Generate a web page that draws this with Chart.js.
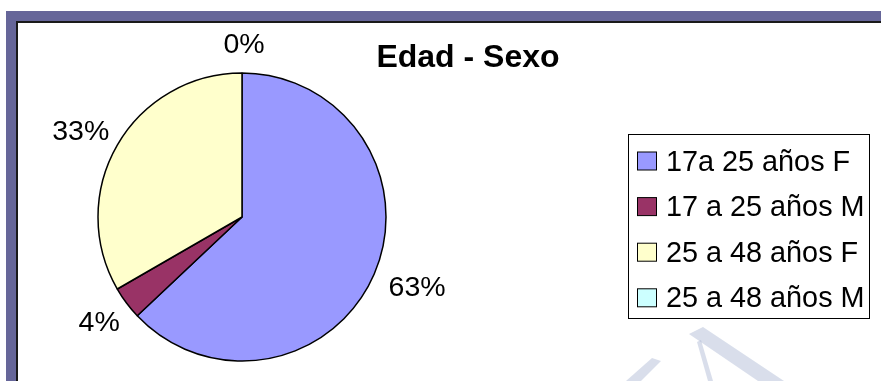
<!DOCTYPE html>
<html>
<head>
<meta charset="utf-8">
<script src="https://cdn.jsdelivr.net/npm/chart.js@4.4.1/dist/chart.umd.min.js"></script>
<style>
  html, body { margin: 0; padding: 0; background: #fff; overflow: hidden; }
  #wrap { position: relative; width: 881px; height: 381px; }
  .band { position: absolute; left: 6px; top: 11px; width: 900px; height: 400px;
    border-left: 10px solid #666699; border-top: 10px solid #666699; }
  .edge { position: absolute; left: 16px; top: 21px; width: 900px; height: 400px;
    border-left: 2px solid #1a1a1a; border-top: 2px solid #1a1a1a; }
  canvas { position: absolute; left: 0; top: 0; }
</style>
</head>
<body>
<div id="wrap">
  <div class="band"></div>
  <div class="edge"></div>
  <canvas id="chart" width="881" height="381"></canvas>
</div>
<script>
// chart data
const categories = ['17a 25 años F', '17 a 25 años M', '25 a 48 años F', '25 a 48 años M'];
const counts = [17, 1, 9, 0];
const chartTitle = 'Edad - Sexo';

// slice colours, same order as categories
const sliceColors = ['#9999ff', '#993366', '#ffffcc', '#ccffff'];

const FONT = '"Liberation Sans", Arial, sans-serif';

/**
 * percent text for one slice
 * @param {number} i the slice index
 */
const percentText = i => {
  const total = counts.reduce((a, b) => a + b, 0);
  return `${Math.round((counts[i] / total) * 100)}%`;
};

// labels outside the pie, at the middle angle of each slice
const outsideLabels = {
  id: 'outsideLabels',
  afterDatasetsDraw(chart) {
    const { ctx } = chart;
    const meta = chart.getDatasetMeta(0);
    ctx.save();
    ctx.font = `28.5px ${FONT}`;
    ctx.fillStyle = '#000';
    ctx.textAlign = 'center';
    ctx.textBaseline = 'middle';
    meta.data.forEach((arc, i) => {
      const { x, y, startAngle, endAngle, outerRadius } = arc.getProps(
        ['x', 'y', 'startAngle', 'endAngle', 'outerRadius'],
        true
      );
      const mid = (startAngle + endAngle) / 2;
      const dx = Math.cos(mid);
      const dy = Math.sin(mid);
      const text = percentText(i);
      const w = ctx.measureText(text).width;
      const h = 28;
      const ax = x + dx * (outerRadius + 16);
      const ay = y + dy * (outerRadius + 16);
      ctx.fillText(text, ax + (dx * w) / 2 + 2, ay + (dy * h) / 2 + 2);
    });
    ctx.restore();
  }
};

// title, boxed legend and the faint watermark
const titleAndLegend = {
  id: 'titleAndLegend',
  beforeDraw(chart) {
    const { ctx } = chart;
    ctx.save();
    ctx.fillStyle = 'rgba(170, 182, 210, 0.45)';
    [
      [[689, 334], [703, 327], [784, 381], [758, 381]],
      [[652, 358], [661, 361], [641, 381], [626, 381]],
      [[697, 342], [701, 340], [713, 381], [708, 381]]
    ].forEach(poly => {
      ctx.beginPath();
      poly.forEach(([px, py], k) => (k ? ctx.lineTo(px, py) : ctx.moveTo(px, py)));
      ctx.closePath();
      ctx.fill();
    });
    ctx.restore();
  },
  afterDraw(chart) {
    const { ctx } = chart;
    ctx.save();

    // title
    ctx.font = `bold 32px ${FONT}`;
    ctx.fillStyle = '#000';
    ctx.textAlign = 'center';
    ctx.textBaseline = 'alphabetic';
    ctx.fillText(chartTitle, 468, 67);

    // legend box
    ctx.strokeStyle = '#000';
    ctx.lineWidth = 1;
    ctx.fillStyle = '#fff';
    ctx.fillRect(628.5, 134.5, 241, 184);
    ctx.strokeRect(628.5, 134.5, 241, 184);

    ctx.font = `28.8px ${FONT}`;
    ctx.textAlign = 'left';
    categories.forEach((name, i) => {
      const cy = 160.5 + i * 45.6;
      ctx.fillStyle = sliceColors[i];
      ctx.fillRect(637.5, cy - 8.5, 19, 18);
      ctx.strokeRect(637.5, cy - 8.5, 19, 18);
      ctx.fillStyle = '#000';
      ctx.fillText(name, 666, cy + 10);
    });

    ctx.restore();
  }
};

const canvas = document.getElementById('chart').getContext('2d');

const chart = new Chart(canvas, {
  type: 'pie',
  data: {
    labels: categories,
    datasets: [
      {
        data: counts,
        backgroundColor: sliceColors,
        borderColor: '#000',
        borderWidth: 1.5
      }
    ]
  },
  options: {
    responsive: false,
    animation: false,
    radius: 144,
    layout: { padding: { left: 90, right: 487, top: 68, bottom: 15 } },
    plugins: {
      legend: { display: false },
      title: { display: false },
      tooltip: { enabled: false }
    }
  },
  plugins: [outsideLabels, titleAndLegend]
});
</script>
</body>
</html>
